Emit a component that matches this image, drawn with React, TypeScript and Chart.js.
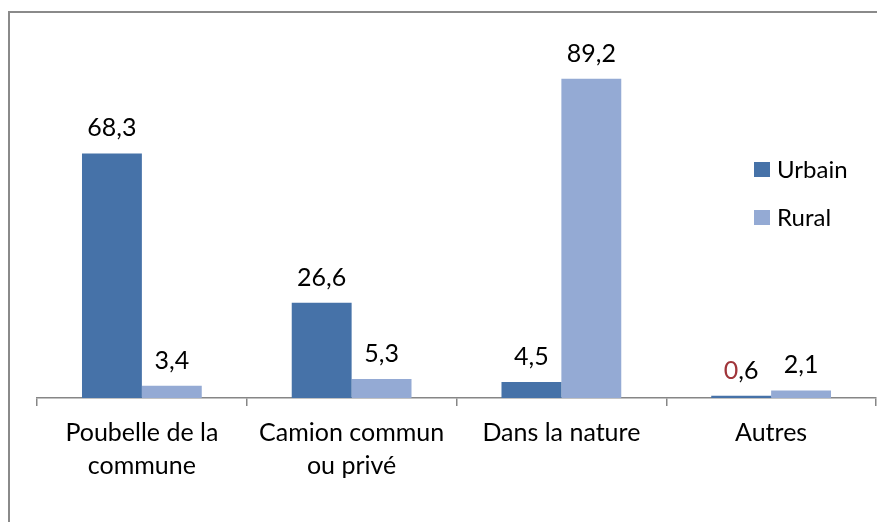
import React, { useEffect, useRef } from "react";
import { Chart, registerables } from "chart.js";

Chart.register(...registerables);

const categories: string[][] = [
  ["Poubelle de la", "commune"],
  ["Camion commun", "ou privé"],
  ["Dans la nature"],
  ["Autres"],
];
const urbainValues = [68.3, 26.6, 4.5, 0.6];
const ruralValues = [3.4, 5.3, 89.2, 2.1];
const seriesNames = ["Urbain", "Rural"];
const seriesColors = ["#4672A8", "#94AAD4"];
// first character of a label drawn in dark red (as in the source)
const redFirstChar = [
  [false, false, false, true],
  [false, false, false, false],
];

const FONT = "Lato, 'Open Sans', sans-serif";

const fmt = (v: number) => v.toFixed(1).replace(".", ",");

const labelsPlugin = {
  id: "valueLabels",
  afterDatasetsDraw(chart: any) {
    const ctx = chart.ctx;
    ctx.save();
    ctx.font = `25px ${FONT}`;
    ctx.textBaseline = "alphabetic";
    chart.data.datasets.forEach((ds: any, di: number) => {
      const meta = chart.getDatasetMeta(di);
      meta.data.forEach((bar: any, i: number) => {
        const text = fmt(ds.data[i]);
        const w = ctx.measureText(text).width;
        const x0 = bar.x - w / 2;
        const y = bar.y - 17;
        ctx.textAlign = "left";
        if (redFirstChar[di][i]) {
          const first = text.charAt(0);
          const rest = text.slice(1);
          ctx.fillStyle = "#A0353A";
          ctx.fillText(first, x0, y);
          ctx.fillStyle = "#000";
          ctx.fillText(rest, x0 + ctx.measureText(first).width, y);
        } else {
          ctx.fillStyle = "#000";
          ctx.fillText(text, x0, y);
        }
      });
    });
    ctx.restore();
  },
};

const legendPlugin = {
  id: "sideLegend",
  afterDraw(chart: any) {
    const ctx = chart.ctx;
    const area = chart.chartArea;
    ctx.save();
    ctx.font = `24px ${FONT}`;
    ctx.textBaseline = "middle";
    ctx.textAlign = "left";
    chart.data.datasets.forEach((ds: any, di: number) => {
      const x = area.right - 122;
      const y = 154 + di * 48;
      ctx.fillStyle = ds.backgroundColor;
      ctx.fillRect(x, y, 16, 15);
      ctx.fillStyle = "#000";
      ctx.fillText(ds.label, x + 23, y + 8);
    });
    ctx.restore();
  },
};

export default function App() {
  const ref = useRef<HTMLCanvasElement | null>(null);
  useEffect(() => {
    if (!ref.current) return;
    const chart = new Chart(ref.current, {
      type: "bar",
      data: {
        labels: categories as any,
        datasets: [
          { label: seriesNames[0], data: urbainValues, backgroundColor: seriesColors[0] },
          { label: seriesNames[1], data: ruralValues, backgroundColor: seriesColors[1] },
        ],
      },
      options: {
        animation: false,
        responsive: false,
        layout: { padding: { left: 29, right: 9, top: 32, bottom: 0 } },
        plugins: { legend: { display: false }, tooltip: { enabled: false } },
        datasets: { bar: { categoryPercentage: 0.571, barPercentage: 1 } },
        scales: {
          x: {
            afterFit: (scale: any) => {
              scale.height = 124;
            },
            grid: {
              display: true,
              drawOnChartArea: false,
              drawTicks: true,
              tickLength: 8,
              color: "#868686",
              lineWidth: 1.5,
              offset: true,
            },
            border: { display: true, color: "#868686", width: 1.5 },
            ticks: {
              color: "#000",
              font: { family: FONT, size: 25, lineHeight: 1.33 },
              padding: 10,
              maxRotation: 0,
              autoSkip: false,
            },
          },
          y: { display: false, min: 0, max: 100 },
        },
      },
      plugins: [labelsPlugin, legendPlugin],
    } as any);
    return () => chart.destroy();
  }, []);
  return (
    <div style={{ position: "relative", width: 877, height: 514, overflow: "hidden" }}>
      <div
        style={{
          position: "absolute",
          left: 0,
          top: 3,
          width: 1000,
          height: 1000,
          borderLeft: "2px solid #8a8a8a",
          borderTop: "2px solid #8a8a8a",
        }}
      />
      <canvas
        ref={ref}
        width={877}
        height={514}
        style={{ position: "absolute", left: 0, top: 0, width: 877, height: 514 }}
      />
    </div>
  );
}
